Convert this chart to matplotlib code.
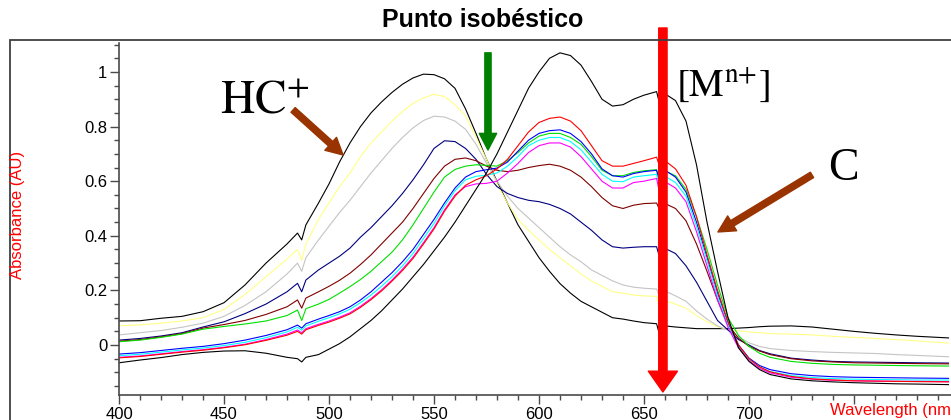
#!/usr/bin/env python3
"""
Absorption spectra of the indicator titration with the isosbestic point marked
"""

import matplotlib
matplotlib.use("Agg")
import matplotlib.pyplot as plt
from matplotlib.patches import Rectangle
from matplotlib.ticker import MultipleLocator

# Wavelength grid (nm), with extra points around the lamp artefacts at 487 and 658 nm
wl = [400, 410, 420, 430, 440, 450, 460, 470, 480,
      485, 487, 489,
      495, 500, 505, 510, 515, 520, 525, 530, 535, 540, 545, 550,
      555, 560, 565, 570, 575, 580, 585, 590, 595, 600, 605, 610,
      615, 620, 625, 630, 635, 640, 645, 650,
      656, 658, 660,
      665, 670, 675, 680, 685, 690, 695, 700, 705, 710,
      720, 730, 740, 750, 760, 770, 780, 795]

# Absorbance (AU) of each spectrum, from free indicator HC+ to the metal complex
abs_hc = [0.088, 0.089, 0.098, 0.105, 0.122, 0.155, 0.220, 0.300, 0.370,
          0.410, 0.385, 0.440,
          0.520, 0.590, 0.670, 0.740, 0.800, 0.850, 0.890, 0.925, 0.955, 0.978, 0.992, 0.990,
          0.975, 0.940, 0.865, 0.775, 0.680, 0.600, 0.520, 0.440, 0.380, 0.320, 0.270, 0.225,
          0.190, 0.160, 0.140, 0.120, 0.100, 0.095, 0.088, 0.082,
          0.078, 0.020, 0.070,
          0.066, 0.063, 0.060, 0.060, 0.060, 0.060, 0.062, 0.064, 0.067, 0.069,
          0.070, 0.066, 0.058, 0.050, 0.043, 0.037, 0.032, 0.026]

abs_yellow = [0.071, 0.074, 0.080, 0.088, 0.100, 0.130, 0.185, 0.250, 0.315,
              0.350, 0.310, 0.370,
              0.460, 0.520, 0.580, 0.630, 0.690, 0.740, 0.780, 0.820, 0.855, 0.885, 0.905, 0.918,
              0.910, 0.880, 0.840, 0.760, 0.680, 0.590, 0.520, 0.460, 0.420, 0.385, 0.350, 0.320,
              0.290, 0.260, 0.235, 0.215, 0.195, 0.190, 0.183, 0.180,
              0.178, 0.120, 0.162,
              0.150, 0.135, 0.108, 0.085, 0.067, 0.056, 0.052, 0.048, 0.045, 0.042,
              0.040, 0.037, 0.032, 0.028, 0.024, 0.020, 0.015, 0.007]

abs_gray = [0.037, 0.045, 0.053, 0.065, 0.080, 0.105, 0.145, 0.195, 0.260,
            0.300, 0.270, 0.320,
            0.385, 0.435, 0.485, 0.530, 0.580, 0.630, 0.675, 0.720, 0.760, 0.795, 0.822, 0.838,
            0.835, 0.820, 0.790, 0.735, 0.665, 0.600, 0.545, 0.500, 0.465, 0.430, 0.395, 0.360,
            0.330, 0.305, 0.275, 0.255, 0.235, 0.220, 0.212, 0.208,
            0.205, 0.165, 0.198,
            0.180, 0.160, 0.125, 0.095, 0.070, 0.055, 0.030, 0.008, -0.005, -0.013,
            -0.020, -0.024, -0.027, -0.029, -0.031, -0.035, -0.038, -0.043]

abs_navy = [0.018, 0.024, 0.033, 0.045, 0.066, 0.085, 0.115, 0.150, 0.195,
            0.226, 0.195, 0.238,
            0.275, 0.300, 0.325, 0.355, 0.395, 0.430, 0.470, 0.510, 0.555, 0.605, 0.660, 0.720,
            0.748, 0.745, 0.720, 0.680, 0.625, 0.580, 0.555, 0.540, 0.530, 0.525, 0.515, 0.500,
            0.480, 0.450, 0.420, 0.385, 0.360, 0.355, 0.358, 0.360,
            0.360, 0.305, 0.354,
            0.335, 0.290, 0.230, 0.160, 0.090, 0.055, 0.020, 0.000, -0.020, -0.032,
            -0.048, -0.055, -0.060, -0.062, -0.063, -0.064, -0.065, -0.066]

abs_maroon = [0.014, 0.020, 0.030, 0.042, 0.062, 0.075, 0.090, 0.112, 0.140,
              0.165, 0.135, 0.172,
              0.195, 0.215, 0.237, 0.263, 0.295, 0.330, 0.370, 0.410, 0.450, 0.500, 0.555, 0.610,
              0.655, 0.680, 0.685, 0.675, 0.655, 0.640, 0.635, 0.640, 0.650, 0.657, 0.662, 0.655,
              0.640, 0.615, 0.580, 0.540, 0.510, 0.500, 0.512, 0.518,
              0.520, 0.485, 0.518,
              0.500, 0.455, 0.370, 0.270, 0.165, 0.075, 0.025, -0.005, -0.022, -0.035,
              -0.050, -0.058, -0.062, -0.065, -0.066, -0.067, -0.068, -0.069]

abs_green = [0.012, 0.018, 0.028, 0.040, 0.058, 0.068, 0.077, 0.088, 0.108,
             0.128, 0.090, 0.133,
             0.150, 0.167, 0.190, 0.214, 0.240, 0.270, 0.305, 0.340, 0.385, 0.440, 0.500, 0.560,
             0.615, 0.643, 0.655, 0.660, 0.658, 0.655, 0.675, 0.705, 0.740, 0.765, 0.775, 0.775,
             0.760, 0.735, 0.690, 0.640, 0.620, 0.620, 0.632, 0.638,
             0.642, 0.580, 0.637,
             0.620, 0.570, 0.470, 0.350, 0.220, 0.100, 0.035, -0.005, -0.030, -0.045,
             -0.060, -0.067, -0.071, -0.073, -0.074, -0.075, -0.076, -0.077]

abs_blue = [-0.033, -0.028, -0.020, -0.012, -0.005, 0.005, 0.018, 0.035, 0.056,
            0.073, 0.062, 0.078,
            0.095, 0.108, 0.122, 0.140, 0.165, 0.195, 0.230, 0.265, 0.305, 0.350, 0.405, 0.460,
            0.520, 0.575, 0.615, 0.635, 0.642, 0.648, 0.670, 0.710, 0.750, 0.775, 0.785, 0.788,
            0.775, 0.745, 0.700, 0.645, 0.620, 0.615, 0.628, 0.635,
            0.640, 0.580, 0.640,
            0.615, 0.560, 0.450, 0.320, 0.190, 0.080, 0.000, -0.048, -0.075, -0.090,
            -0.105, -0.112, -0.116, -0.118, -0.119, -0.120, -0.121, -0.122]

abs_cyan = [-0.039, -0.034, -0.026, -0.018, -0.011, -0.002, 0.010, 0.027, 0.048,
            0.065, 0.054, 0.070,
            0.087, 0.100, 0.114, 0.131, 0.155, 0.183, 0.215, 0.250, 0.290, 0.335, 0.390, 0.445,
            0.510, 0.565, 0.605, 0.618, 0.622, 0.630, 0.655, 0.690, 0.730, 0.750, 0.760, 0.760,
            0.745, 0.715, 0.670, 0.625, 0.600, 0.598, 0.615, 0.620,
            0.625, 0.560, 0.618,
            0.595, 0.545, 0.435, 0.310, 0.180, 0.075, -0.005, -0.053, -0.080, -0.097,
            -0.112, -0.119, -0.123, -0.125, -0.126, -0.127, -0.128, -0.128]

abs_magenta = [-0.045, -0.040, -0.032, -0.024, -0.017, -0.008, 0.003, 0.020, 0.040,
               0.055, 0.045, 0.060,
               0.076, 0.088, 0.102, 0.118, 0.142, 0.170, 0.202, 0.238, 0.278, 0.322, 0.375, 0.430,
               0.495, 0.550, 0.580, 0.590, 0.592, 0.600, 0.630, 0.665, 0.705, 0.730, 0.740, 0.740,
               0.725, 0.690, 0.645, 0.600, 0.575, 0.575, 0.595, 0.600,
               0.610, 0.535, 0.598,
               0.575, 0.525, 0.415, 0.290, 0.165, 0.065, -0.010, -0.058, -0.085, -0.102,
               -0.118, -0.125, -0.129, -0.131, -0.132, -0.133, -0.133, -0.134]

abs_red = [-0.047, -0.042, -0.034, -0.026, -0.019, -0.010, 0.001, 0.017, 0.036,
           0.050, 0.040, 0.056,
           0.072, 0.084, 0.098, 0.114, 0.138, 0.166, 0.198, 0.234, 0.273, 0.317, 0.370, 0.425,
           0.490, 0.545, 0.585, 0.605, 0.620, 0.645, 0.680, 0.730, 0.780, 0.815, 0.830, 0.835,
           0.820, 0.785, 0.730, 0.675, 0.655, 0.655, 0.665, 0.675,
           0.688, 0.640, 0.675,
           0.645, 0.585, 0.470, 0.330, 0.200, 0.085, 0.000, -0.050, -0.080, -0.098,
           -0.115, -0.124, -0.128, -0.131, -0.132, -0.133, -0.134, -0.135]

abs_complex = [-0.065, -0.055, -0.046, -0.035, -0.027, -0.022, -0.021, -0.030, -0.045,
               -0.050, -0.062, -0.045,
               -0.035, -0.015, 0.005, 0.030, 0.060, 0.090, 0.125, 0.165, 0.205, 0.250, 0.295, 0.345,
               0.395, 0.450, 0.510, 0.570, 0.630, 0.700, 0.780, 0.860, 0.940, 1.000, 1.050, 1.070,
               1.060, 1.025, 0.965, 0.900, 0.875, 0.880, 0.900, 0.915,
               0.928, 0.865, 0.920,
               0.895, 0.820, 0.660, 0.450, 0.270, 0.100, -0.010, -0.060, -0.090, -0.108,
               -0.124, -0.131, -0.135, -0.138, -0.140, -0.142, -0.143, -0.145]

spectra = [
    (abs_hc, "black"),
    (abs_yellow, "#ffff88"),
    (abs_gray, "#c4c4c4"),
    (abs_navy, "#000080"),
    (abs_maroon, "#800000"),
    (abs_green, "#00e000"),
    (abs_blue, "#0000ff"),
    (abs_cyan, "#00ffff"),
    (abs_magenta, "#ff00ff"),
    (abs_red, "#ff0000"),
    (abs_complex, "black"),
]

y_ticks = [0, 0.2, 0.4, 0.6, 0.8, 1.0]
y_tick_labels = ["0", "0.2", "0.4", "0.6", "0.8", "1"]
x_ticks = [400, 450, 500, 550, 600, 650, 700, 750]
# the 750 position carries the axis title instead of a number
x_tick_labels = ["400", "450", "500", "550", "600", "650", "700", ""]

isosbestic_wl = 575.7
metal_wl = 659

plt.rcParams["font.family"] = ["Liberation Sans", "DejaVu Sans"]
plt.rcParams["mathtext.fontset"] = "stix"

W, H = 951, 420
fig = plt.figure(figsize=(W / 100, H / 100), dpi=100)

# outer frame of the figure
fig.add_artist(Rectangle((10 / W, -0.1), 1.2, 1.1 - 40 / H, transform=fig.transFigure,
                         fill=False, edgecolor="#404040", linewidth=1.3))

ax = fig.add_axes([119 / W, 1 - 395 / H, (W - 119) / W, (395 - 43) / H])
ax.set_xlim(400, 400 + (W - 119) / 2.1)
ax.set_ylim(-0.183, 1.106)

for values, color in spectra:
    ax.plot(wl, values, color=color, linewidth=0.8)

for side in ("top", "right"):
    ax.spines[side].set_visible(False)
for side in ("left", "bottom"):
    ax.spines[side].set_color("#4a4a4a")
    ax.spines[side].set_linewidth(1.2)

ax.set_xticks(x_ticks)
ax.set_xticklabels(x_tick_labels)
ax.xaxis.set_minor_locator(MultipleLocator(10))
ax.set_yticks(y_ticks)
ax.set_yticklabels(y_tick_labels)
ax.yaxis.set_minor_locator(MultipleLocator(0.05))
ax.tick_params(which="both", direction="out", color="#4a4a4a", width=1.0)
ax.tick_params(which="major", length=6.5, pad=2, labelsize=12)
ax.tick_params(which="minor", length=3.5)

# axis titles
fig.text(18 / W, 1 - 215 / H, "Absorbance (AU)", rotation=90, color="red",
         fontsize=12, ha="center", va="center")
fig.text(830 / W, 1 - 410 / H, "Wavelength (nm)", color="red", fontsize=12,
         ha="left", va="center")
fig.text(483 / W, 1 - 20 / H, "Punto isobéstico", fontsize=18, fontweight="bold",
         ha="center", va="center")

# species labels
fig.text(220 / W, 1 - 113 / H, r"$\mathrm{HC}^{+}$", fontsize=34, ha="left", va="baseline")
fig.text(676 / W, 1 - 96 / H, r"$[\mathrm{M}^{\mathrm{n}{+}}]$", fontsize=28,
         ha="left", va="baseline")
fig.text(828 / W, 1 - 180 / H, "C", fontsize=33, family="Liberation Serif",
         ha="left", va="baseline")

# arrows
thin_arrow = "simple,head_length=1.2,head_width=1.25,tail_width=0.45"
ax.annotate("", xy=(506.7, 0.696), xytext=(482.9, 0.861),
            arrowprops=dict(arrowstyle=thin_arrow, mutation_scale=10, color="#993300",
                            shrinkA=0, shrinkB=0), annotation_clip=False)
ax.annotate("", xy=(685.2, 0.414), xytext=(730.0, 0.623),
            arrowprops=dict(arrowstyle=thin_arrow, mutation_scale=10, color="#993300",
                            shrinkA=0, shrinkB=0), annotation_clip=False)
ax.annotate("", xy=(isosbestic_wl, 0.714), xytext=(isosbestic_wl, 1.07),
            arrowprops=dict(arrowstyle=thin_arrow, mutation_scale=10, color="#008000",
                            shrinkA=0, shrinkB=0), annotation_clip=False)
ax.annotate("", xy=(metal_wl, -0.172), xytext=(metal_wl, 1.161),
            arrowprops=dict(arrowstyle="simple,head_length=1.5,head_width=2.1,tail_width=0.6",
                            mutation_scale=10, color="#ff0000", shrinkA=0, shrinkB=0),
            annotation_clip=False)

fig.savefig("out.png", dpi=100)
